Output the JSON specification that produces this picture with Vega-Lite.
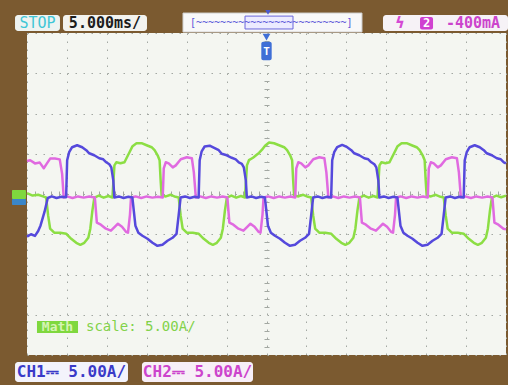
{
  "$schema": "https://vega.github.io/schema/vega-lite/v6.json",
  "width": 479,
  "height": 322,
  "autosize": "none",
  "padding": {"left": 27, "top": 33, "right": 2, "bottom": 30},
  "background": "#7b5a30",
  "config": {
    "view": {"fill": "#f4f6f1", "stroke": null},
    "font": "DejaVu Sans Mono",
    "text": {"font": "DejaVu Sans Mono", "baseline": "middle", "align": "center"}
  },
  "data": {"values": [{}]},
  "datasets": {
    "traces": [
      {"t": -30, "i": 0.1, "ch": "Math"}, {"t": -29.3, "i": -0.2, "ch": "Math"}, {"t": -28.6, "i": -0.1, "ch": "Math"}, {"t": -28.0, "i": -0.3, "ch": "Math"},
      {"t": -27.6, "i": -0.44, "ch": "Math"}, {"t": -27.35, "i": -2.69, "ch": "Math"}, {"t": -27.1, "i": -4.31, "ch": "Math"}, {"t": -26.59, "i": -4.81, "ch": "Math"}, {"t": -25.84, "i": -4.81, "ch": "Math"}, {"t": -25.08, "i": -4.94, "ch": "Math"}, {"t": -24.46, "i": -5.56, "ch": "Math"}, {"t": -23.83, "i": -6.06, "ch": "Math"}, {"t": -23.32, "i": -6.31, "ch": "Math"}, {"t": -22.82, "i": -6.06, "ch": "Math"}, {"t": -22.32, "i": -5.44, "ch": "Math"}, {"t": -22.07, "i": -4.31, "ch": "Math"}, {"t": -21.81, "i": -2.06, "ch": "Math"}, {"t": -21.56, "i": -0.44, "ch": "Math"},
      {"t": -21.0, "i": -0.2, "ch": "Math"}, {"t": -20.4, "i": -0.45, "ch": "Math"}, {"t": -19.8, "i": -0.25, "ch": "Math"},
      {"t": -19.3, "i": -0.44, "ch": "Math"}, {"t": -19.05, "i": 3.56, "ch": "Math"}, {"t": -18.8, "i": 3.94, "ch": "Math"}, {"t": -18.29, "i": 3.81, "ch": "Math"}, {"t": -17.79, "i": 3.94, "ch": "Math"}, {"t": -17.54, "i": 4.44, "ch": "Math"}, {"t": -17.16, "i": 5.19, "ch": "Math"}, {"t": -16.78, "i": 5.94, "ch": "Math"}, {"t": -16.28, "i": 6.31, "ch": "Math"}, {"t": -15.65, "i": 6.31, "ch": "Math"}, {"t": -15.02, "i": 6.06, "ch": "Math"}, {"t": -14.39, "i": 5.81, "ch": "Math"}, {"t": -14.02, "i": 5.44, "ch": "Math"}, {"t": -13.64, "i": 4.81, "ch": "Math"}, {"t": -13.39, "i": 4.19, "ch": "Math"}, {"t": -13.26, "i": 1.69, "ch": "Math"}, {"t": -13.14, "i": -0.19, "ch": "Math"},
      {"t": -12.6, "i": -0.3, "ch": "Math"}, {"t": -12.0, "i": -0.1, "ch": "Math"}, {"t": -11.4, "i": -0.35, "ch": "Math"},
      {"t": -11.0, "i": -0.44, "ch": "Math"}, {"t": -10.75, "i": -2.69, "ch": "Math"}, {"t": -10.5, "i": -4.31, "ch": "Math"}, {"t": -9.99, "i": -4.81, "ch": "Math"}, {"t": -9.24, "i": -4.81, "ch": "Math"}, {"t": -8.48, "i": -4.94, "ch": "Math"}, {"t": -7.86, "i": -5.56, "ch": "Math"}, {"t": -7.23, "i": -6.06, "ch": "Math"}, {"t": -6.72, "i": -6.31, "ch": "Math"}, {"t": -6.22, "i": -6.06, "ch": "Math"}, {"t": -5.72, "i": -5.44, "ch": "Math"}, {"t": -5.47, "i": -4.31, "ch": "Math"}, {"t": -5.21, "i": -2.06, "ch": "Math"}, {"t": -4.96, "i": -0.44, "ch": "Math"},
      {"t": -4.4, "i": -0.2, "ch": "Math"}, {"t": -3.8, "i": -0.45, "ch": "Math"}, {"t": -3.2, "i": -0.25, "ch": "Math"},
      {"t": -2.7, "i": -0.44, "ch": "Math"}, {"t": -2.45, "i": 3.56, "ch": "Math"}, {"t": -2.2, "i": 4.2, "ch": "Math"}, {"t": -1.69, "i": 4.5, "ch": "Math"}, {"t": -1.19, "i": 4.9, "ch": "Math"}, {"t": -0.94, "i": 5.1, "ch": "Math"}, {"t": -0.56, "i": 5.5, "ch": "Math"}, {"t": -0.18, "i": 6.0, "ch": "Math"}, {"t": 0.32, "i": 6.4, "ch": "Math"}, {"t": 0.95, "i": 6.3, "ch": "Math"}, {"t": 1.58, "i": 6.06, "ch": "Math"}, {"t": 2.21, "i": 5.81, "ch": "Math"}, {"t": 2.58, "i": 5.44, "ch": "Math"}, {"t": 2.96, "i": 4.81, "ch": "Math"}, {"t": 3.21, "i": 4.19, "ch": "Math"}, {"t": 3.34, "i": 1.69, "ch": "Math"}, {"t": 3.46, "i": -0.19, "ch": "Math"},
      {"t": 4.0, "i": -0.3, "ch": "Math"}, {"t": 4.6, "i": -0.1, "ch": "Math"}, {"t": 5.2, "i": -0.35, "ch": "Math"},
      {"t": 5.6, "i": -0.44, "ch": "Math"}, {"t": 5.85, "i": -2.69, "ch": "Math"}, {"t": 6.1, "i": -4.31, "ch": "Math"}, {"t": 6.61, "i": -4.81, "ch": "Math"}, {"t": 7.36, "i": -4.81, "ch": "Math"}, {"t": 8.12, "i": -4.94, "ch": "Math"}, {"t": 8.74, "i": -5.56, "ch": "Math"}, {"t": 9.37, "i": -6.06, "ch": "Math"}, {"t": 9.88, "i": -6.31, "ch": "Math"}, {"t": 10.38, "i": -6.06, "ch": "Math"}, {"t": 10.88, "i": -5.44, "ch": "Math"}, {"t": 11.13, "i": -4.31, "ch": "Math"}, {"t": 11.39, "i": -2.06, "ch": "Math"}, {"t": 11.64, "i": -0.44, "ch": "Math"},
      {"t": 12.2, "i": -0.2, "ch": "Math"}, {"t": 12.8, "i": -0.45, "ch": "Math"}, {"t": 13.4, "i": -0.25, "ch": "Math"},
      {"t": 13.9, "i": -0.44, "ch": "Math"}, {"t": 14.15, "i": 3.56, "ch": "Math"}, {"t": 14.4, "i": 3.94, "ch": "Math"}, {"t": 14.91, "i": 3.81, "ch": "Math"}, {"t": 15.41, "i": 3.94, "ch": "Math"}, {"t": 15.66, "i": 4.44, "ch": "Math"}, {"t": 16.04, "i": 5.19, "ch": "Math"}, {"t": 16.42, "i": 5.94, "ch": "Math"}, {"t": 16.92, "i": 6.31, "ch": "Math"}, {"t": 17.55, "i": 6.31, "ch": "Math"}, {"t": 18.18, "i": 6.06, "ch": "Math"}, {"t": 18.81, "i": 5.81, "ch": "Math"}, {"t": 19.18, "i": 5.44, "ch": "Math"}, {"t": 19.56, "i": 4.81, "ch": "Math"}, {"t": 19.81, "i": 4.19, "ch": "Math"}, {"t": 19.94, "i": 1.69, "ch": "Math"}, {"t": 20.06, "i": -0.19, "ch": "Math"},
      {"t": 20.6, "i": -0.3, "ch": "Math"}, {"t": 21.2, "i": -0.1, "ch": "Math"}, {"t": 21.8, "i": -0.35, "ch": "Math"},
      {"t": 22.2, "i": -0.44, "ch": "Math"}, {"t": 22.45, "i": -2.69, "ch": "Math"}, {"t": 22.7, "i": -4.31, "ch": "Math"}, {"t": 23.21, "i": -4.81, "ch": "Math"}, {"t": 23.96, "i": -4.81, "ch": "Math"}, {"t": 24.72, "i": -4.94, "ch": "Math"}, {"t": 25.34, "i": -5.56, "ch": "Math"}, {"t": 25.97, "i": -6.06, "ch": "Math"}, {"t": 26.48, "i": -6.31, "ch": "Math"}, {"t": 26.98, "i": -6.06, "ch": "Math"}, {"t": 27.48, "i": -5.44, "ch": "Math"}, {"t": 27.73, "i": -4.31, "ch": "Math"}, {"t": 27.99, "i": -2.06, "ch": "Math"}, {"t": 28.24, "i": -0.44, "ch": "Math"},
      {"t": 28.8, "i": -0.2, "ch": "Math"}, {"t": 29.4, "i": -0.4, "ch": "Math"}, {"t": 30.0, "i": -0.2, "ch": "Math"},

      {"t": -30, "i": 4.1, "ch": "CH2"}, {"t": -29.6, "i": 4.2, "ch": "CH2"}, {"t": -29.0, "i": 3.8, "ch": "CH2"}, {"t": -28.4, "i": 3.9, "ch": "CH2"}, {"t": -27.9, "i": 3.2, "ch": "CH2"}, {"t": -27.5, "i": 3.8, "ch": "CH2"}, {"t": -27.1, "i": 4.4, "ch": "CH2"}, {"t": -26.5, "i": 4.4, "ch": "CH2"}, {"t": -25.9, "i": 4.3, "ch": "CH2"}, {"t": -25.6, "i": 2.5, "ch": "CH2"}, {"t": -25.4, "i": -0.44, "ch": "CH2"},
      {"t": -25.0, "i": -0.3, "ch": "CH2"}, {"t": -24.3, "i": -0.5, "ch": "CH2"}, {"t": -23.6, "i": -0.3, "ch": "CH2"}, {"t": -22.9, "i": -0.45, "ch": "CH2"}, {"t": -22.2, "i": -0.3, "ch": "CH2"}, {"t": -21.7, "i": -0.4, "ch": "CH2"},
      {"t": -21.5, "i": -0.44, "ch": "CH2"}, {"t": -21.25, "i": -3.56, "ch": "CH2"}, {"t": -20.75, "i": -3.81, "ch": "CH2"}, {"t": -20.12, "i": -4.31, "ch": "CH2"}, {"t": -19.49, "i": -4.56, "ch": "CH2"}, {"t": -18.98, "i": -4.06, "ch": "CH2"}, {"t": -18.61, "i": -3.69, "ch": "CH2"}, {"t": -18.1, "i": -4.06, "ch": "CH2"}, {"t": -17.6, "i": -4.69, "ch": "CH2"}, {"t": -17.35, "i": -4.81, "ch": "CH2"}, {"t": -17.1, "i": -2.56, "ch": "CH2"}, {"t": -16.97, "i": -0.44, "ch": "CH2"},
      {"t": -16.4, "i": -0.3, "ch": "CH2"}, {"t": -15.7, "i": -0.5, "ch": "CH2"}, {"t": -15.0, "i": -0.3, "ch": "CH2"}, {"t": -14.3, "i": -0.45, "ch": "CH2"}, {"t": -13.6, "i": -0.35, "ch": "CH2"},
      {"t": -13.0, "i": -0.44, "ch": "CH2"}, {"t": -12.87, "i": 3.19, "ch": "CH2"}, {"t": -12.62, "i": 3.94, "ch": "CH2"}, {"t": -12.25, "i": 3.81, "ch": "CH2"}, {"t": -11.74, "i": 3.31, "ch": "CH2"}, {"t": -11.36, "i": 3.56, "ch": "CH2"}, {"t": -10.74, "i": 4.31, "ch": "CH2"}, {"t": -9.98, "i": 4.56, "ch": "CH2"}, {"t": -9.35, "i": 4.44, "ch": "CH2"}, {"t": -9.1, "i": 2.69, "ch": "CH2"}, {"t": -8.85, "i": -0.44, "ch": "CH2"},
      {"t": -8.3, "i": -0.3, "ch": "CH2"}, {"t": -7.6, "i": -0.5, "ch": "CH2"}, {"t": -6.9, "i": -0.3, "ch": "CH2"}, {"t": -6.2, "i": -0.45, "ch": "CH2"}, {"t": -5.5, "i": -0.3, "ch": "CH2"},
      {"t": -4.9, "i": -0.44, "ch": "CH2"}, {"t": -4.65, "i": -3.56, "ch": "CH2"}, {"t": -4.15, "i": -3.81, "ch": "CH2"}, {"t": -3.52, "i": -4.31, "ch": "CH2"}, {"t": -2.89, "i": -4.56, "ch": "CH2"}, {"t": -2.38, "i": -4.06, "ch": "CH2"}, {"t": -2.01, "i": -3.69, "ch": "CH2"}, {"t": -1.5, "i": -4.06, "ch": "CH2"}, {"t": -1.0, "i": -4.69, "ch": "CH2"}, {"t": -0.75, "i": -4.81, "ch": "CH2"}, {"t": -0.5, "i": -2.56, "ch": "CH2"}, {"t": -0.37, "i": -0.44, "ch": "CH2"},
      {"t": 0.2, "i": -0.3, "ch": "CH2"}, {"t": 0.9, "i": -0.5, "ch": "CH2"}, {"t": 1.6, "i": -0.3, "ch": "CH2"}, {"t": 2.3, "i": -0.45, "ch": "CH2"}, {"t": 3.0, "i": -0.3, "ch": "CH2"},
      {"t": 3.6, "i": -0.44, "ch": "CH2"}, {"t": 3.73, "i": 3.19, "ch": "CH2"}, {"t": 3.98, "i": 3.94, "ch": "CH2"}, {"t": 4.35, "i": 3.81, "ch": "CH2"}, {"t": 4.86, "i": 3.31, "ch": "CH2"}, {"t": 5.24, "i": 3.56, "ch": "CH2"}, {"t": 5.86, "i": 4.31, "ch": "CH2"}, {"t": 6.62, "i": 4.56, "ch": "CH2"}, {"t": 7.25, "i": 4.44, "ch": "CH2"}, {"t": 7.5, "i": 2.69, "ch": "CH2"}, {"t": 7.75, "i": -0.44, "ch": "CH2"},
      {"t": 8.3, "i": -0.3, "ch": "CH2"}, {"t": 9.0, "i": -0.5, "ch": "CH2"}, {"t": 9.7, "i": -0.3, "ch": "CH2"}, {"t": 10.4, "i": -0.45, "ch": "CH2"}, {"t": 11.1, "i": -0.3, "ch": "CH2"},
      {"t": 11.7, "i": -0.44, "ch": "CH2"}, {"t": 11.95, "i": -3.56, "ch": "CH2"}, {"t": 12.45, "i": -3.81, "ch": "CH2"}, {"t": 13.08, "i": -4.31, "ch": "CH2"}, {"t": 13.71, "i": -4.56, "ch": "CH2"}, {"t": 14.22, "i": -4.06, "ch": "CH2"}, {"t": 14.59, "i": -3.69, "ch": "CH2"}, {"t": 15.1, "i": -4.06, "ch": "CH2"}, {"t": 15.6, "i": -4.69, "ch": "CH2"}, {"t": 15.85, "i": -4.81, "ch": "CH2"}, {"t": 16.1, "i": -2.56, "ch": "CH2"}, {"t": 16.23, "i": -0.44, "ch": "CH2"},
      {"t": 16.8, "i": -0.3, "ch": "CH2"}, {"t": 17.5, "i": -0.5, "ch": "CH2"}, {"t": 18.2, "i": -0.3, "ch": "CH2"}, {"t": 18.9, "i": -0.45, "ch": "CH2"}, {"t": 19.6, "i": -0.3, "ch": "CH2"},
      {"t": 20.2, "i": -0.44, "ch": "CH2"}, {"t": 20.33, "i": 3.19, "ch": "CH2"}, {"t": 20.58, "i": 3.94, "ch": "CH2"}, {"t": 20.95, "i": 3.81, "ch": "CH2"}, {"t": 21.46, "i": 3.31, "ch": "CH2"}, {"t": 21.84, "i": 3.56, "ch": "CH2"}, {"t": 22.46, "i": 4.31, "ch": "CH2"}, {"t": 23.22, "i": 4.56, "ch": "CH2"}, {"t": 23.85, "i": 4.44, "ch": "CH2"}, {"t": 24.1, "i": 2.69, "ch": "CH2"}, {"t": 24.35, "i": -0.44, "ch": "CH2"},
      {"t": 24.9, "i": -0.3, "ch": "CH2"}, {"t": 25.6, "i": -0.5, "ch": "CH2"}, {"t": 26.3, "i": -0.3, "ch": "CH2"}, {"t": 27.0, "i": -0.45, "ch": "CH2"}, {"t": 27.7, "i": -0.3, "ch": "CH2"},
      {"t": 28.3, "i": -0.44, "ch": "CH2"}, {"t": 28.55, "i": -3.56, "ch": "CH2"}, {"t": 29.05, "i": -3.81, "ch": "CH2"}, {"t": 29.68, "i": -4.31, "ch": "CH2"}, {"t": 30.0, "i": -4.4, "ch": "CH2"},

      {"t": -30, "i": -5.3, "ch": "CH1"}, {"t": -29.5, "i": -5.0, "ch": "CH1"}, {"t": -29.0, "i": -5.2, "ch": "CH1"}, {"t": -28.6, "i": -4.6, "ch": "CH1"}, {"t": -28.3, "i": -3.9, "ch": "CH1"}, {"t": -27.8, "i": -2.2, "ch": "CH1"}, {"t": -27.4, "i": -0.5, "ch": "CH1"},
      {"t": -26.9, "i": -0.3, "ch": "CH1"}, {"t": -26.3, "i": -0.5, "ch": "CH1"}, {"t": -25.7, "i": -0.35, "ch": "CH1"},
      {"t": -25.1, "i": -0.4, "ch": "CH1"}, {"t": -24.97, "i": 4.19, "ch": "CH1"}, {"t": -24.72, "i": 5.19, "ch": "CH1"}, {"t": -24.35, "i": 5.81, "ch": "CH1"}, {"t": -23.72, "i": 6.06, "ch": "CH1"}, {"t": -23.09, "i": 5.81, "ch": "CH1"}, {"t": -22.58, "i": 5.44, "ch": "CH1"}, {"t": -22.21, "i": 5.06, "ch": "CH1"}, {"t": -21.58, "i": 4.81, "ch": "CH1"}, {"t": -20.95, "i": 4.44, "ch": "CH1"}, {"t": -20.45, "i": 4.31, "ch": "CH1"}, {"t": -20.07, "i": 3.94, "ch": "CH1"}, {"t": -19.69, "i": 3.69, "ch": "CH1"}, {"t": -19.44, "i": 3.31, "ch": "CH1"}, {"t": -19.19, "i": 1.69, "ch": "CH1"}, {"t": -19.06, "i": -0.44, "ch": "CH1"},
      {"t": -18.5, "i": -0.3, "ch": "CH1"}, {"t": -17.9, "i": -0.5, "ch": "CH1"}, {"t": -17.3, "i": -0.35, "ch": "CH1"},
      {"t": -16.8, "i": -0.44, "ch": "CH1"}, {"t": -16.42, "i": -3.94, "ch": "CH1"}, {"t": -16.05, "i": -4.81, "ch": "CH1"}, {"t": -15.54, "i": -5.19, "ch": "CH1"}, {"t": -14.91, "i": -5.56, "ch": "CH1"}, {"t": -14.28, "i": -6.06, "ch": "CH1"}, {"t": -13.66, "i": -6.44, "ch": "CH1"}, {"t": -13.03, "i": -6.31, "ch": "CH1"}, {"t": -12.4, "i": -5.81, "ch": "CH1"}, {"t": -11.77, "i": -5.44, "ch": "CH1"}, {"t": -11.27, "i": -4.94, "ch": "CH1"}, {"t": -11.01, "i": -2.69, "ch": "CH1"}, {"t": -10.76, "i": -0.44, "ch": "CH1"},
      {"t": -10.2, "i": -0.3, "ch": "CH1"}, {"t": -9.6, "i": -0.5, "ch": "CH1"}, {"t": -9.0, "i": -0.35, "ch": "CH1"},
      {"t": -8.5, "i": -0.44, "ch": "CH1"}, {"t": -8.37, "i": 4.19, "ch": "CH1"}, {"t": -8.12, "i": 5.3, "ch": "CH1"}, {"t": -7.75, "i": 5.9, "ch": "CH1"}, {"t": -7.12, "i": 6.0, "ch": "CH1"}, {"t": -6.49, "i": 5.7, "ch": "CH1"}, {"t": -5.98, "i": 5.44, "ch": "CH1"}, {"t": -5.61, "i": 5.0, "ch": "CH1"}, {"t": -4.98, "i": 4.81, "ch": "CH1"}, {"t": -4.35, "i": 4.5, "ch": "CH1"}, {"t": -3.85, "i": 4.31, "ch": "CH1"}, {"t": -3.47, "i": 3.94, "ch": "CH1"}, {"t": -3.09, "i": 3.75, "ch": "CH1"}, {"t": -2.84, "i": 3.31, "ch": "CH1"}, {"t": -2.59, "i": 1.69, "ch": "CH1"}, {"t": -2.46, "i": -0.44, "ch": "CH1"},
      {"t": -1.9, "i": -0.3, "ch": "CH1"}, {"t": -1.3, "i": -0.5, "ch": "CH1"}, {"t": -0.7, "i": -0.35, "ch": "CH1"},
      {"t": -0.2, "i": -0.44, "ch": "CH1"}, {"t": 0.18, "i": -3.94, "ch": "CH1"}, {"t": 0.55, "i": -4.81, "ch": "CH1"}, {"t": 1.06, "i": -5.19, "ch": "CH1"}, {"t": 1.69, "i": -5.56, "ch": "CH1"}, {"t": 2.32, "i": -6.06, "ch": "CH1"}, {"t": 2.94, "i": -6.44, "ch": "CH1"}, {"t": 3.57, "i": -6.31, "ch": "CH1"}, {"t": 4.2, "i": -5.81, "ch": "CH1"}, {"t": 4.83, "i": -5.44, "ch": "CH1"}, {"t": 5.33, "i": -4.94, "ch": "CH1"}, {"t": 5.59, "i": -2.69, "ch": "CH1"}, {"t": 5.84, "i": -0.44, "ch": "CH1"},
      {"t": 6.4, "i": -0.3, "ch": "CH1"}, {"t": 7.0, "i": -0.5, "ch": "CH1"}, {"t": 7.6, "i": -0.35, "ch": "CH1"},
      {"t": 8.1, "i": -0.44, "ch": "CH1"}, {"t": 8.23, "i": 4.19, "ch": "CH1"}, {"t": 8.48, "i": 5.19, "ch": "CH1"}, {"t": 8.85, "i": 5.81, "ch": "CH1"}, {"t": 9.48, "i": 6.1, "ch": "CH1"}, {"t": 10.11, "i": 5.81, "ch": "CH1"}, {"t": 10.62, "i": 5.44, "ch": "CH1"}, {"t": 10.99, "i": 5.06, "ch": "CH1"}, {"t": 11.62, "i": 4.81, "ch": "CH1"}, {"t": 12.25, "i": 4.44, "ch": "CH1"}, {"t": 12.75, "i": 4.31, "ch": "CH1"}, {"t": 13.13, "i": 3.94, "ch": "CH1"}, {"t": 13.51, "i": 3.69, "ch": "CH1"}, {"t": 13.76, "i": 3.31, "ch": "CH1"}, {"t": 14.01, "i": 1.69, "ch": "CH1"}, {"t": 14.14, "i": -0.44, "ch": "CH1"},
      {"t": 14.7, "i": -0.3, "ch": "CH1"}, {"t": 15.3, "i": -0.5, "ch": "CH1"}, {"t": 15.9, "i": -0.35, "ch": "CH1"},
      {"t": 16.4, "i": -0.44, "ch": "CH1"}, {"t": 16.78, "i": -3.94, "ch": "CH1"}, {"t": 17.15, "i": -4.81, "ch": "CH1"}, {"t": 17.66, "i": -5.19, "ch": "CH1"}, {"t": 18.29, "i": -5.56, "ch": "CH1"}, {"t": 18.92, "i": -6.06, "ch": "CH1"}, {"t": 19.54, "i": -6.44, "ch": "CH1"}, {"t": 20.17, "i": -6.31, "ch": "CH1"}, {"t": 20.8, "i": -5.81, "ch": "CH1"}, {"t": 21.43, "i": -5.44, "ch": "CH1"}, {"t": 21.93, "i": -4.94, "ch": "CH1"}, {"t": 22.19, "i": -2.69, "ch": "CH1"}, {"t": 22.44, "i": -0.44, "ch": "CH1"},
      {"t": 23.0, "i": -0.3, "ch": "CH1"}, {"t": 23.6, "i": -0.5, "ch": "CH1"}, {"t": 24.2, "i": -0.35, "ch": "CH1"},
      {"t": 24.7, "i": -0.44, "ch": "CH1"}, {"t": 24.83, "i": 4.19, "ch": "CH1"}, {"t": 25.08, "i": 5.19, "ch": "CH1"}, {"t": 25.45, "i": 5.81, "ch": "CH1"}, {"t": 26.08, "i": 6.06, "ch": "CH1"}, {"t": 26.71, "i": 5.81, "ch": "CH1"}, {"t": 27.22, "i": 5.44, "ch": "CH1"}, {"t": 27.59, "i": 5.06, "ch": "CH1"}, {"t": 28.22, "i": 4.81, "ch": "CH1"}, {"t": 28.85, "i": 4.44, "ch": "CH1"}, {"t": 29.35, "i": 4.31, "ch": "CH1"}, {"t": 29.73, "i": 3.94, "ch": "CH1"}, {"t": 30.0, "i": 3.8, "ch": "CH1"}
    ]
  },
  "layer": [
    {
      "data": {"name": "traces"},
      "mark": {"type": "line", "strokeWidth": 2.5, "strokeJoin": "round"},
      "encoding": {
        "x": {"field": "t", "type": "quantitative", "scale": {"domain": [-30, 30], "nice": false, "zero": false},
          "axis": {"values": [-30, -25, -20, -15, -10, -5, 0, 5, 10, 15, 20, 25, 30], "grid": true, "gridDash": [1.5, 6.5], "gridColor": "#a3a8a2", "gridWidth": 1, "labels": false, "ticks": false, "domain": false, "title": null}},
        "y": {"field": "i", "type": "quantitative", "scale": {"domain": [-20, 20], "nice": false, "zero": false},
          "axis": {"values": [-20, -15, -10, -5, 0, 5, 10, 15, 20], "grid": true, "gridDash": [1.5, 6.5], "gridColor": "#a3a8a2", "gridWidth": 1, "labels": false, "ticks": false, "domain": false, "title": null}},
        "color": {"field": "ch", "type": "nominal", "scale": {"domain": ["Math", "CH2", "CH1"], "range": ["#8cde44", "#e06ae0", "#5549dc"]}, "legend": null}
      }
    },
    {
      "mark": {"type": "point", "opacity": 0},
      "encoding": {
        "x": {"datum": 0, "type": "quantitative", "scale": {"domain": [-30, 30], "nice": false, "zero": false},
          "axis": {"orient": "bottom", "offset": -164, "values": [-29, -28, -27, -26, -24, -23, -22, -21, -19, -18, -17, -16, -14, -13, -12, -11, -9, -8, -7, -6, -4, -3, -2, -1, 1, 2, 3, 4, 6, 7, 8, 9, 11, 12, 13, 14, 16, 17, 18, 19, 21, 22, 23, 24, 26, 27, 28, 29], "tickSize": 5, "tickColor": "#a3a8a2", "tickWidth": 1, "labels": false, "domain": false, "grid": false, "title": null}},
        "y": {"datum": 0, "type": "quantitative", "scale": {"domain": [-20, 20], "nice": false, "zero": false},
          "axis": {"orient": "left", "offset": -242, "values": [-19, -18, -17, -16, -14, -13, -12, -11, -9, -8, -7, -6, -4, -3, -2, -1, 1, 2, 3, 4, 6, 7, 8, 9, 11, 12, 13, 14, 16, 17, 18, 19], "tickSize": 5, "tickColor": "#a3a8a2", "tickWidth": 1, "labels": false, "domain": false, "grid": false, "title": null}}
      }
    },
    {
      "mark": {"type": "rect", "fill": "#eef3f1", "cornerRadius": 3},
      "encoding": {
        "x": {"datum": -31.5, "type": "quantitative", "scale": {"domain": [-30, 30], "nice": false, "zero": false}, "axis": null},
        "x2": {"datum": -25.87},
        "y": {"datum": 22.24, "type": "quantitative", "scale": {"domain": [-20, 20], "nice": false, "zero": false}, "axis": null},
        "y2": {"datum": 20.25}
      }
    },
    {
      "mark": {"type": "text", "text": "STOP", "color": "#3fc6d6", "fontSize": 15},
      "encoding": {
        "x": {"datum": -28.69, "type": "quantitative", "scale": {"domain": [-30, 30], "nice": false, "zero": false}, "axis": null},
        "y": {"datum": 21.2, "type": "quantitative", "scale": {"domain": [-20, 20], "nice": false, "zero": false}, "axis": null}
      }
    },
    {
      "mark": {"type": "rect", "fill": "#f3f3ef", "cornerRadius": 3},
      "encoding": {
        "x": {"datum": -25.49, "type": "quantitative", "scale": {"domain": [-30, 30], "nice": false, "zero": false}, "axis": null},
        "x2": {"datum": -14.97},
        "y": {"datum": 22.24, "type": "quantitative", "scale": {"domain": [-20, 20], "nice": false, "zero": false}, "axis": null},
        "y2": {"datum": 20.25}
      }
    },
    {
      "mark": {"type": "text", "text": "5.000ms/", "color": "#1c1c1c", "fontSize": 15, "fontWeight": "bold"},
      "encoding": {
        "x": {"datum": -20.23, "type": "quantitative", "scale": {"domain": [-30, 30], "nice": false, "zero": false}, "axis": null},
        "y": {"datum": 21.2, "type": "quantitative", "scale": {"domain": [-20, 20], "nice": false, "zero": false}, "axis": null}
      }
    },
    {
      "mark": {"type": "rect", "fill": "#f8f8f8", "stroke": "#d0d0d0", "strokeWidth": 1},
      "encoding": {
        "x": {"datum": -10.46, "type": "quantitative", "scale": {"domain": [-30, 30], "nice": false, "zero": false}, "axis": null},
        "x2": {"datum": 11.96},
        "y": {"datum": 22.48, "type": "quantitative", "scale": {"domain": [-20, 20], "nice": false, "zero": false}, "axis": null},
        "y2": {"datum": 20.12}
      }
    },
    {
      "mark": {"type": "rect", "fill": "#ecebff", "stroke": "#6a66dc", "strokeWidth": 1},
      "encoding": {
        "x": {"datum": -2.69, "type": "quantitative", "scale": {"domain": [-30, 30], "nice": false, "zero": false}, "axis": null},
        "x2": {"datum": 3.32},
        "y": {"datum": 22.1, "type": "quantitative", "scale": {"domain": [-20, 20], "nice": false, "zero": false}, "axis": null},
        "y2": {"datum": 20.5}
      }
    },
    {
      "mark": {"type": "text", "text": "[~~~~~~~~~~~~~~~~~~~~~~~~~]", "color": "#5a56d8", "fontSize": 10},
      "encoding": {
        "x": {"datum": 0.6, "type": "quantitative", "scale": {"domain": [-30, 30], "nice": false, "zero": false}, "axis": null},
        "y": {"datum": 21.3, "type": "quantitative", "scale": {"domain": [-20, 20], "nice": false, "zero": false}, "axis": null}
      }
    },
    {
      "mark": {"type": "point", "shape": "triangle-down", "filled": true, "color": "#4a58d0", "size": 30, "opacity": 1},
      "encoding": {
        "x": {"datum": 0.19, "type": "quantitative", "scale": {"domain": [-30, 30], "nice": false, "zero": false}, "axis": null},
        "y": {"datum": 22.55, "type": "quantitative", "scale": {"domain": [-20, 20], "nice": false, "zero": false}, "axis": null}
      }
    },
    {
      "mark": {"type": "rect", "fill": "#f6f2f6", "cornerRadius": 3},
      "encoding": {
        "x": {"datum": 14.59, "type": "quantitative", "scale": {"domain": [-30, 30], "nice": false, "zero": false}, "axis": null},
        "x2": {"datum": 30.25},
        "y": {"datum": 22.24, "type": "quantitative", "scale": {"domain": [-20, 20], "nice": false, "zero": false}, "axis": null},
        "y2": {"datum": 20.25}
      }
    },
    {
      "mark": {"type": "text", "text": "ϟ", "color": "#d448d4", "fontSize": 15, "fontWeight": "bold", "font": "DejaVu Sans"},
      "encoding": {
        "x": {"datum": 16.72, "type": "quantitative", "scale": {"domain": [-30, 30], "nice": false, "zero": false}, "axis": null},
        "y": {"datum": 21.2, "type": "quantitative", "scale": {"domain": [-20, 20], "nice": false, "zero": false}, "axis": null}
      }
    },
    {
      "mark": {"type": "rect", "fill": "#d040d0", "cornerRadius": 2},
      "encoding": {
        "x": {"datum": 19.23, "type": "quantitative", "scale": {"domain": [-30, 30], "nice": false, "zero": false}, "axis": null},
        "x2": {"datum": 20.86},
        "y": {"datum": 22.0, "type": "quantitative", "scale": {"domain": [-20, 20], "nice": false, "zero": false}, "axis": null},
        "y2": {"datum": 20.45}
      }
    },
    {
      "mark": {"type": "text", "text": "2", "color": "#ffffff", "fontSize": 12, "fontWeight": "bold"},
      "encoding": {
        "x": {"datum": 20.04, "type": "quantitative", "scale": {"domain": [-30, 30], "nice": false, "zero": false}, "axis": null},
        "y": {"datum": 21.2, "type": "quantitative", "scale": {"domain": [-20, 20], "nice": false, "zero": false}, "axis": null}
      }
    },
    {
      "mark": {"type": "text", "text": "-400mA", "color": "#cc44cc", "fontSize": 15, "fontWeight": "bold"},
      "encoding": {
        "x": {"datum": 25.87, "type": "quantitative", "scale": {"domain": [-30, 30], "nice": false, "zero": false}, "axis": null},
        "y": {"datum": 21.2, "type": "quantitative", "scale": {"domain": [-20, 20], "nice": false, "zero": false}, "axis": null}
      }
    },
    {
      "mark": {"type": "rect", "fill": "#3f6fd6", "cornerRadius": 2},
      "encoding": {
        "x": {"datum": -0.65, "type": "quantitative", "scale": {"domain": [-30, 30], "nice": false, "zero": false}, "axis": null},
        "x2": {"datum": 0.65},
        "y": {"datum": 18.9, "type": "quantitative", "scale": {"domain": [-20, 20], "nice": false, "zero": false}, "axis": null},
        "y2": {"datum": 16.6}
      }
    },
    {
      "mark": {"type": "point", "shape": "triangle-down", "filled": true, "color": "#3f6fd6", "size": 60, "opacity": 1},
      "encoding": {
        "x": {"datum": 0, "type": "quantitative", "scale": {"domain": [-30, 30], "nice": false, "zero": false}, "axis": null},
        "y": {"datum": 19.5, "type": "quantitative", "scale": {"domain": [-20, 20], "nice": false, "zero": false}, "axis": null}
      }
    },
    {
      "mark": {"type": "text", "text": "T", "color": "#ffffff", "fontSize": 11, "fontWeight": "bold"},
      "encoding": {
        "x": {"datum": 0, "type": "quantitative", "scale": {"domain": [-30, 30], "nice": false, "zero": false}, "axis": null},
        "y": {"datum": 17.7, "type": "quantitative", "scale": {"domain": [-20, 20], "nice": false, "zero": false}, "axis": null}
      }
    },
    {
      "mark": {"type": "rect", "fill": "#7fd83e", "cornerRadius": 1},
      "encoding": {
        "x": {"datum": -31.88, "type": "quantitative", "scale": {"domain": [-30, 30], "nice": false, "zero": false}, "axis": null},
        "x2": {"datum": -30.13},
        "y": {"datum": 0.5, "type": "quantitative", "scale": {"domain": [-20, 20], "nice": false, "zero": false}, "axis": null},
        "y2": {"datum": -0.62}
      }
    },
    {
      "mark": {"type": "rect", "fill": "#3a86c8", "cornerRadius": 1},
      "encoding": {
        "x": {"datum": -31.88, "type": "quantitative", "scale": {"domain": [-30, 30], "nice": false, "zero": false}, "axis": null},
        "x2": {"datum": -30.13},
        "y": {"datum": -0.62, "type": "quantitative", "scale": {"domain": [-20, 20], "nice": false, "zero": false}, "axis": null},
        "y2": {"datum": -1.37}
      }
    },
    {
      "mark": {"type": "rect", "fill": "#7fd83e"},
      "encoding": {
        "x": {"datum": -28.75, "type": "quantitative", "scale": {"domain": [-30, 30], "nice": false, "zero": false}, "axis": null},
        "x2": {"datum": -23.61},
        "y": {"datum": -15.78, "type": "quantitative", "scale": {"domain": [-20, 20], "nice": false, "zero": false}, "axis": null},
        "y2": {"datum": -17.27}
      }
    },
    {
      "mark": {"type": "text", "text": "Math", "color": "#d6f4b4", "fontSize": 13, "fontWeight": "bold"},
      "encoding": {
        "x": {"datum": -26.18, "type": "quantitative", "scale": {"domain": [-30, 30], "nice": false, "zero": false}, "axis": null},
        "y": {"datum": -16.52, "type": "quantitative", "scale": {"domain": [-20, 20], "nice": false, "zero": false}, "axis": null}
      }
    },
    {
      "mark": {"type": "text", "text": "scale: 5.00A/", "color": "#82d24a", "fontSize": 14, "align": "left"},
      "encoding": {
        "x": {"datum": -22.61, "type": "quantitative", "scale": {"domain": [-30, 30], "nice": false, "zero": false}, "axis": null},
        "y": {"datum": -16.52, "type": "quantitative", "scale": {"domain": [-20, 20], "nice": false, "zero": false}, "axis": null}
      }
    },
    {
      "mark": {"type": "rect", "fill": "#f3f3fb", "cornerRadius": 3},
      "encoding": {
        "x": {"datum": -31.5, "type": "quantitative", "scale": {"domain": [-30, 30], "nice": false, "zero": false}, "axis": null},
        "x2": {"datum": -17.35},
        "y": {"datum": -20.87, "type": "quantitative", "scale": {"domain": [-20, 20], "nice": false, "zero": false}, "axis": null},
        "y2": {"datum": -23.35}
      }
    },
    {
      "mark": {"type": "text", "text": "CH1⎓ 5.00A/", "color": "#3a3ac8", "fontSize": 16, "fontWeight": "bold"},
      "encoding": {
        "x": {"datum": -24.43, "type": "quantitative", "scale": {"domain": [-30, 30], "nice": false, "zero": false}, "axis": null},
        "y": {"datum": -22.11, "type": "quantitative", "scale": {"domain": [-20, 20], "nice": false, "zero": false}, "axis": null}
      }
    },
    {
      "mark": {"type": "rect", "fill": "#f7eff7", "cornerRadius": 3},
      "encoding": {
        "x": {"datum": -15.6, "type": "quantitative", "scale": {"domain": [-30, 30], "nice": false, "zero": false}, "axis": null},
        "x2": {"datum": -1.69},
        "y": {"datum": -20.87, "type": "quantitative", "scale": {"domain": [-20, 20], "nice": false, "zero": false}, "axis": null},
        "y2": {"datum": -23.35}
      }
    },
    {
      "mark": {"type": "text", "text": "CH2⎓ 5.00A/", "color": "#cc44cc", "fontSize": 16, "fontWeight": "bold"},
      "encoding": {
        "x": {"datum": -8.64, "type": "quantitative", "scale": {"domain": [-30, 30], "nice": false, "zero": false}, "axis": null},
        "y": {"datum": -22.11, "type": "quantitative", "scale": {"domain": [-20, 20], "nice": false, "zero": false}, "axis": null}
      }
    }
  ],
  "resolve": {"axis": {"x": "independent", "y": "independent"}}
}
